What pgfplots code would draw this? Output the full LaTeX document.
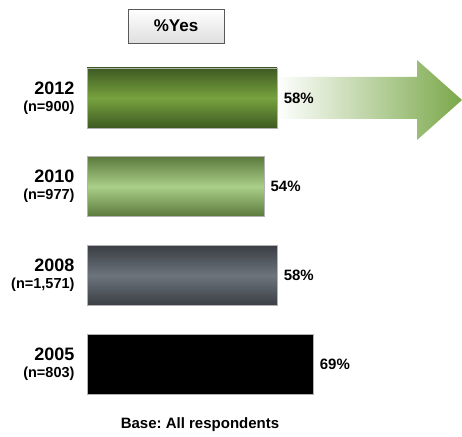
\documentclass[border=0pt]{standalone}
\usepackage{pgfplots}
\pgfplotsset{compat=1.18}
\usepackage{fontspec}
\setmainfont{Liberation Sans}
\definecolor{gDark}{HTML}{3E5A22}
\definecolor{gMid}{HTML}{77A23F}
\definecolor{lDark}{HTML}{5B7A3C}
\definecolor{lMid}{HTML}{AACF89}
\definecolor{sDark}{HTML}{3A3E44}
\definecolor{sMid}{HTML}{6C747C}
\definecolor{arrowG}{HTML}{7AA84A}
\begin{document}
\frenchspacing
\begin{tikzpicture}[x=1pt,y=1pt]
\path[use as bounding box] (0,0) rectangle (462,436);
% decorative arrow behind 2012 bar
\shade[left color=white, right color=arrowG]
  (277,317) -- (417,317) -- (417,296) -- (462,336) -- (417,376) -- (417,359) -- (277,359) -- cycle;
% %Yes box
\node[draw=gray!70!black, line width=0.6pt, top color=white, bottom color=gray!25,
      minimum width=96pt, minimum height=34pt, inner sep=0pt,
      font=\bfseries\fontsize{17}{17}\selectfont] at (176,410) {\%Yes};
\begin{axis}[
  at={(87pt,0pt)}, anchor=south west,
  scale only axis, width=328pt, height=436pt,
  xmin=0, xmax=100, ymin=0, ymax=436,
  clip=false,
  axis line style={draw=none},
  xtick=\empty,
  ytick={72,160.5,249.5,338},
  yticklabels={
    {{\fontsize{18}{19}\selectfont 2005}\\{\fontsize{14.5}{16}\selectfont (n=803)}},
    {{\fontsize{18}{19}\selectfont 2008}\\{\fontsize{14.5}{16}\selectfont (n=1,571)}},
    {{\fontsize{18}{19}\selectfont 2010}\\{\fontsize{14.5}{16}\selectfont (n=977)}},
    {{\fontsize{18}{19}\selectfont 2012}\\{\fontsize{14.5}{16}\selectfont (n=900)}}},
  yticklabel style={align=right, font=\bfseries\fontsize{14.5}{17}\selectfont, xshift=-9pt},
  major tick length=0pt,
  xbar, bar width=60pt, bar shift=0pt,
  nodes near coords={\pgfmathprintnumber[assume math mode=true]{\pgfplotspointmeta}\%},
  every node near coord/.style={anchor=west, xshift=3pt, text=black,
      font=\bfseries\fontsize{15}{15}\selectfont},
]
\addplot[draw=gray!60, line width=0.4pt, top color=gDark, bottom color=gDark, middle color=gMid]
  coordinates {(58,338)};
\addplot[draw=gray!60, line width=0.4pt, top color=lDark, bottom color=lDark, middle color=lMid]
  coordinates {(54,249.5)};
\addplot[draw=gray!60, line width=0.4pt, top color=sDark, bottom color=sDark, middle color=sMid]
  coordinates {(58,160.5)};
\addplot[draw=gray!60, line width=0.4pt, fill=black]
  coordinates {(69,72)};
\end{axis}
\node[font=\bfseries\fontsize{15}{15}\selectfont] at (200,11) {Base: All respondents};
\end{tikzpicture}
\end{document}
